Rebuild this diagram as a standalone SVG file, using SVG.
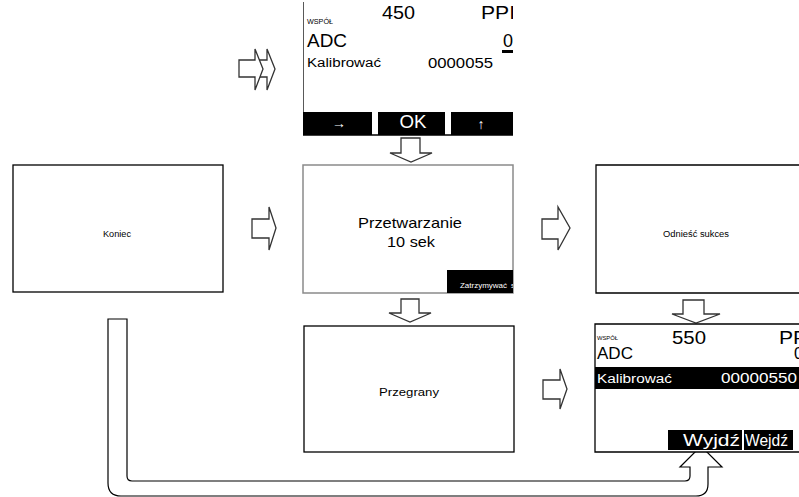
<svg xmlns="http://www.w3.org/2000/svg" width="799" height="497" viewBox="0 0 799 497">
<style>
text{font-family:"Liberation Sans",Arial,sans-serif;fill:#000}
.w{fill:#fff}
.frame{fill:#fff;stroke:#000;stroke-width:1.3}
.gframe{fill:#fff;stroke:#8a8a8a;stroke-width:1.5}
.blk{fill:#000}
.arr{fill:#fff;stroke:#333;stroke-width:1.3;stroke-linejoin:miter}
.conn{fill:#fff;stroke:#000;stroke-width:1.2}
</style>
<defs>
<clipPath id="cTop"><rect x="303" y="0" width="210" height="136"/></clipPath>
<clipPath id="cMid"><rect x="303" y="165" width="210" height="128"/></clipPath>
<clipPath id="cBot"><rect x="595" y="324" width="204" height="129"/></clipPath>
</defs>
<rect width="799" height="497" fill="#fff"/>

<g id="connectors">
<polygon class="arr" points="255,60 267,60 267,49 275,69 267,90 267,77 255,77"/>
<polygon class="arr" points="239,60 255,60 255,49 263,69 255,90 255,77 239,77"/>
<polygon class="arr" points="401,138 420,138 420,153 432,153 411,162 390,153 401,153"/>
<polygon class="arr" points="252,219 269,219 269,207 276,228 269,250 269,238 252,238"/>
<polygon class="arr" points="542,219 558,219 558,207 570,228 558,250 558,239 542,239"/>
<polygon class="arr" points="401,299 419,299 419,313 431,313 410,322 389,313 401,313"/>
<polygon class="arr" points="543,380 560,380 560,369 567,389 560,409 560,399 543,399"/>
<polygon class="arr" points="683,300 704,300 704,314 720,314 696,323 672,314 683,314"/>
<path class="conn" d="M108,319 L127,319 L127,476 Q127,481 132,481 L685,481 Q690,481 690,476 L690,467 L680,467 L701,446 L722,467 L708,467 L708,484 Q708,496 696,496 L121,496 Q108,496 108,483 Z"/>
</g>

<g id="screenTop" clip-path="url(#cTop)">
<path d="M303,2 V135 H513" fill="none" stroke="#000" stroke-width="1.3"/>
<text x="307" y="24" font-size="6.5" textLength="26" lengthAdjust="spacingAndGlyphs">WSPÓŁ</text>
<text x="382" y="19" font-size="17.5" textLength="33" lengthAdjust="spacingAndGlyphs" fill="#222">450</text>
<text x="481" y="19" font-size="17.5" textLength="34" lengthAdjust="spacingAndGlyphs">PPI</text>
<text x="307" y="47" font-size="18" textLength="40" lengthAdjust="spacingAndGlyphs">ADC</text>
<text x="503" y="47" font-size="18">0</text>
<rect x="502" y="50" width="12" height="3" class="blk"/>
<text x="307" y="67" font-size="12.5" textLength="74" lengthAdjust="spacingAndGlyphs">Kalibrować</text>
<text x="428" y="68" font-size="15" textLength="65" lengthAdjust="spacingAndGlyphs">0000055</text>
<rect x="303" y="112" width="69" height="23" class="blk"/>
<rect x="378" y="112" width="67" height="23" class="blk"/>
<rect x="451" y="112" width="62" height="23" class="blk"/>
<text x="339" y="128" font-size="14" font-weight="bold" class="w" text-anchor="middle">→</text>
<text x="413" y="128" font-size="18" class="w" text-anchor="middle" textLength="27" lengthAdjust="spacingAndGlyphs">OK</text>
<text x="481" y="129" font-size="14" font-weight="bold" class="w" text-anchor="middle">↑</text>
</g>

<g id="nodeKoniec">
<rect x="13" y="165" width="210" height="127" class="frame"/>
<text x="117" y="237" font-size="8.5" text-anchor="middle" textLength="28" lengthAdjust="spacingAndGlyphs">Koniec</text>
</g>

<g id="nodePrzetwarzanie">
<rect x="303" y="165" width="210" height="128" class="gframe"/>
<g clip-path="url(#cMid)">
<rect x="447" y="270" width="66" height="23" class="blk"/>
<text x="460" y="288" font-size="7" class="w" textLength="47" lengthAdjust="spacingAndGlyphs">Zatrzymywać</text>
<text x="511" y="288" font-size="7" class="w">s</text>
</g>
<text x="410" y="228" font-size="15" text-anchor="middle" textLength="104" lengthAdjust="spacingAndGlyphs">Przetwarzanie</text>
<text x="411" y="247" font-size="15" text-anchor="middle" textLength="48" lengthAdjust="spacingAndGlyphs">10 sek</text>
</g>

<g id="nodeSukces">
<path d="M800,165 H596 V293 H800" class="frame"/>
<text x="696" y="237" font-size="8.5" text-anchor="middle" textLength="66" lengthAdjust="spacingAndGlyphs">Odnieść sukces</text>
</g>

<g id="nodePrzegrany">
<rect x="304" y="326" width="210" height="126" class="frame"/>
<text x="409" y="396" font-size="11" text-anchor="middle" textLength="60" lengthAdjust="spacingAndGlyphs">Przegrany</text>
</g>

<g id="screenBottom">
<path d="M800,324 H595 V452 H800" class="frame"/>
<g clip-path="url(#cBot)">
<text x="597" y="340" font-size="6" textLength="21" lengthAdjust="spacingAndGlyphs">WSPÓŁ</text>
<text x="672" y="344" font-size="18" textLength="34" lengthAdjust="spacingAndGlyphs" fill="#222">550</text>
<text x="779" y="344" font-size="18" textLength="34" lengthAdjust="spacingAndGlyphs">PPI</text>
<text x="597" y="359" font-size="16.5" textLength="36" lengthAdjust="spacingAndGlyphs">ADC</text>
<text x="794" y="359" font-size="16.5">0</text>
</g>
<rect x="595" y="367" width="204" height="22" class="blk"/>
<text x="597" y="383" font-size="12.5" class="w" textLength="75" lengthAdjust="spacingAndGlyphs">Kalibrować</text>
<text x="721" y="383" font-size="14" class="w" textLength="76" lengthAdjust="spacingAndGlyphs">00000550</text>
<rect x="668" y="430" width="74" height="20" class="blk"/>
<text x="683" y="446" font-size="16" class="w" textLength="57" lengthAdjust="spacingAndGlyphs">Wyjdź</text>
<rect x="744" y="430" width="49" height="20" class="blk"/>
<text x="745" y="446" font-size="16" class="w" textLength="43" lengthAdjust="spacingAndGlyphs">Wejdź</text>
</g>
</svg>
